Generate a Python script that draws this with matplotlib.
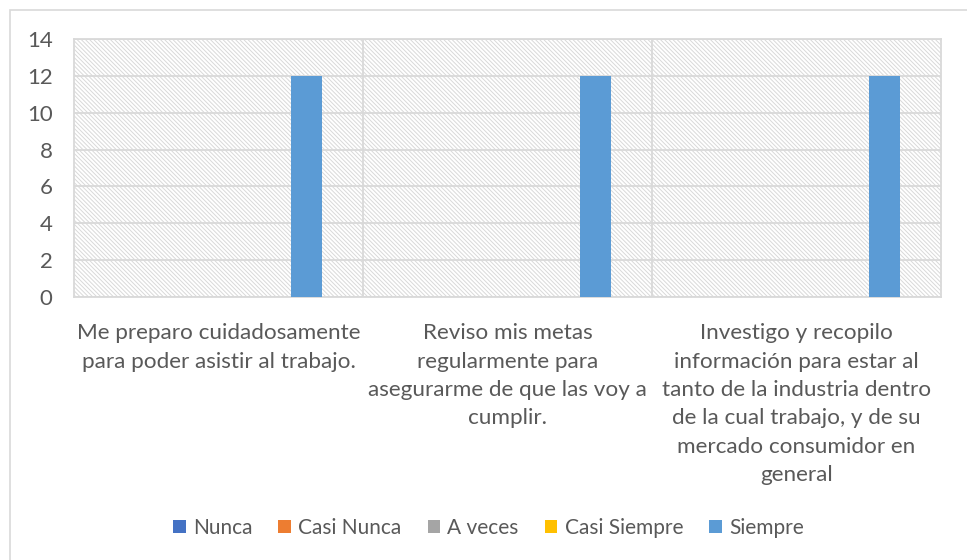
import matplotlib
matplotlib.use("Agg")
import matplotlib.pyplot as plt
import numpy as np
from matplotlib.patches import Rectangle, Patch

categories = [
    "Me preparo cuidadosamente\npara poder asistir al trabajo.",
    "Reviso mis metas\nregularmente para\nasegurarme de que las voy a\ncumplir.",
    "Investigo y recopilo\ninformación para estar al\ntanto de la industria dentro\nde la cual trabajo, y de su\nmercado consumidor en\ngeneral",
]
series_names = ["Nunca", "Casi Nunca", "A veces", "Casi Siempre", "Siempre"]
nunca = [0, 0, 0]
casi_nunca = [0, 0, 0]
a_veces = [0, 0, 0]
casi_siempre = [0, 0, 0]
siempre = [12, 12, 12]
yticks = [0, 2, 4, 6, 8, 10, 12, 14]

colors = ["#4472C4", "#ED7D31", "#A5A5A5", "#FFC000", "#5B9BD5"]
values = [nunca, casi_nunca, a_veces, casi_siempre, siempre]

plt.rcParams["font.family"] = ["Lato", "DejaVu Sans"]
plt.rcParams["hatch.color"] = "#d9d9d9"
plt.rcParams["hatch.linewidth"] = 0.7
txt = "#595959"
grid = "#d9d9d9"

W, H = 967, 560
fig = plt.figure(figsize=(W / 100, H / 100), dpi=100)

# outer chart border
fig.patches.append(Rectangle((10 / W, -0.01), 1.0, 1 - 10 / H + 0.01, transform=fig.transFigure,
                             fill=False, edgecolor="#d9d9d9", linewidth=1.2))

ax = fig.add_axes([74 / W, (H - 297) / H, (941 - 74) / W, (297 - 39) / H])
ax.set_xlim(-0.5, 2.5)
ax.set_ylim(0, 14)

# hatched plot area background
ax.add_patch(Rectangle((0, 0), 1, 1, transform=ax.transAxes, facecolor="white",
                       edgecolor="#d9d9d9", hatch="\\\\\\\\\\\\\\\\", linewidth=0, zorder=0))

x = np.arange(len(categories))
step = 44 / 289
width = 31 / 289
for i, (name, vals, c) in enumerate(zip(series_names, values, colors)):
    ax.bar(x + (i - 2) * step, vals, width=width, color=c, zorder=3, label=name)

for y in yticks:
    ax.axhline(y, color=grid, linewidth=1.3, zorder=1)
for xb in [0.5, 1.5]:
    ax.axvline(xb, color=grid, linewidth=1.3, zorder=1)
for s in ax.spines.values():
    s.set_color(grid)
    s.set_linewidth(1.3)

ax.set_yticks(yticks)
ax.set_yticklabels([str(v) for v in yticks], fontsize=16, color=txt)
ax.tick_params(axis="y", length=0, pad=15.5)
ax.set_xticks(x)
ax.set_xticklabels(categories, fontsize=16.2, color=txt, linespacing=1.52, va="top")
ax.tick_params(axis="x", length=0, pad=19)

handles = [Patch(facecolor=c, edgecolor="none") for c in colors]
fig.legend(handles, series_names, loc="center", bbox_to_anchor=(0.505, (H - 528) / H),
           ncol=5, frameon=False, fontsize=15, labelcolor=txt, handlelength=0.6,
           handleheight=0.6, handletextpad=0.35, columnspacing=1.25)

fig.savefig("out.png", dpi=100, facecolor="white")
